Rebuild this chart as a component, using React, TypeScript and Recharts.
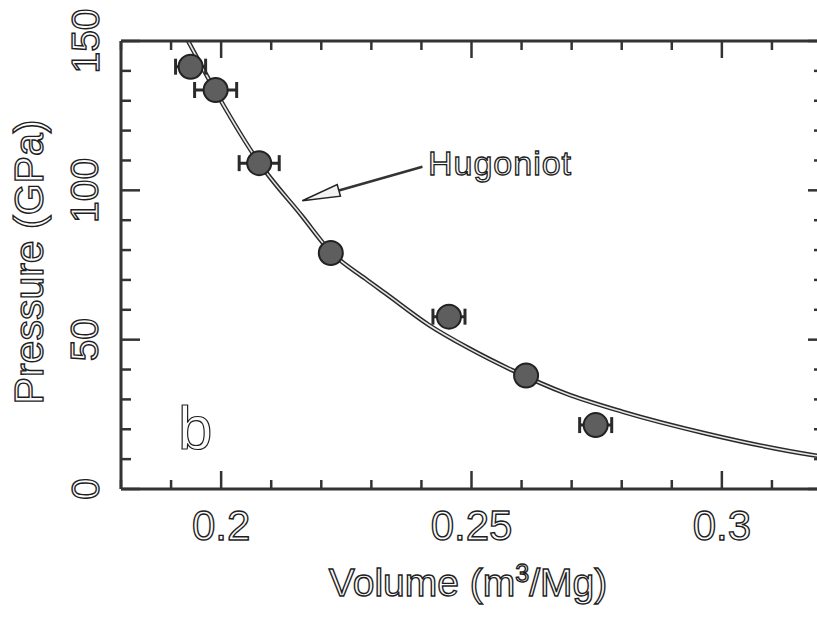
import React from 'react'
import { ComposedChart, Line, Scatter, XAxis, YAxis, ErrorBar, ReferenceLine } from 'recharts'

// measured points: volume (m3/Mg), pressure (GPa), volume uncertainty
const shotVolume = [0.1939, 0.1989, 0.2076, 0.2219, 0.2455, 0.2609, 0.2748]
const shotPressure = [141.4, 133.6, 109.1, 79.0, 57.7, 38.0, 21.4]
const shotVolumeErr = [0.003, 0.0042, 0.004, 0, 0.0032, 0, 0.0032]

// Hugoniot curve
const hugVolume = [0.1934, 0.1996, 0.2076, 0.2161, 0.2219, 0.2289, 0.2329, 0.2415, 0.2495, 0.2581, 0.2688, 0.2801, 0.2968, 0.318, 0.32]
const hugPressure = [150, 131, 109.2, 91.5, 79.4, 70.3, 65.4, 54.9, 47.1, 39.8, 32.0, 25.9, 18.6, 11.4, 10.9]

// arrow pointing from the label to the curve
const arrowVolume = [0.2402, 0.2162]
const arrowPressure = [107.9, 96.5]

const volumeTicks = [0.18, 0.19, 0.2, 0.21, 0.22, 0.23, 0.24, 0.25, 0.26, 0.27, 0.28, 0.29, 0.3, 0.31, 0.32]
const volumeLabels = [0.2, 0.25, 0.3]
const pressureTicks = [0, 10, 20, 30, 40, 50, 60, 70, 80, 90, 100, 110, 120, 130, 140, 150]
const pressureLabels = [0, 50, 100, 150]

const shots = shotVolume.map((v, i) => ({ v, p: shotPressure[i], err: shotVolumeErr[i] }))
const hugoniot = hugVolume.map((v, i) => ({ v, p: hugPressure[i] }))

const FONT = '"Liberation Sans", Arial, sans-serif'
const INK = '#1e1e1e'
const hollow = { fill: '#fbfbfb', stroke: INK, strokeWidth: 1.4, fontFamily: FONT }
const tickStyle = { stroke: '#333', strokeWidth: 2.5 }
const frame = { stroke: '#333', strokeWidth: 3 }

const PressureLabel = ({ x, y, payload }: any) => (
  <text
    x={x - 36}
    y={y}
    transform={`rotate(-90 ${x - 36} ${y})`}
    textAnchor="middle"
    dominantBaseline="central"
    fontSize={39}
    {...hollow}
  >
    {payload.value}
  </text>
)

const VolumeLabel = ({ x, y, payload }: any) => (
  <text x={x} y={y + 36} textAnchor="middle" dominantBaseline="central" fontSize={42} {...hollow}>
    {payload.value}
  </text>
)

// inward tick stubs at both ends of a full-height / full-width reference line
const VStubs = ({ x1, y1, y2, major }: any) => {
  const top = Math.min(y1, y2)
  const bottom = Math.max(y1, y2)
  return (
    <g>
      <line x1={x1} x2={x1} y1={top} y2={top + (major ? 17 : 9)} {...tickStyle} />
      <line x1={x1} x2={x1} y1={bottom} y2={bottom - (major ? 18 : 9)} {...tickStyle} />
    </g>
  )
}

const HStubs = ({ x1, x2, y1, major }: any) => {
  const left = Math.min(x1, x2)
  const right = Math.max(x1, x2)
  return (
    <g>
      <line x1={left} x2={left + (major ? 19 : 10)} y1={y1} y2={y1} {...tickStyle} />
      <line x1={right} x2={right - (major ? 14 : 8)} y1={y1} y2={y1} {...tickStyle} />
    </g>
  )
}

const Shot = ({ cx, cy }: any) => (
  <circle cx={cx} cy={cy} r={12} fill="#5e5e5e" stroke="#222" strokeWidth={2} />
)

const Arrow = ({ x1, y1, x2, y2 }: any) => {
  const dx = x2 - x1
  const dy = y2 - y1
  const len = Math.sqrt(dx * dx + dy * dy)
  const ux = dx / len
  const uy = dy / len
  const bx = x2 - ux * 38
  const by = y2 - uy * 38
  const head = `${x2},${y2} ${bx - uy * 6},${by + ux * 6} ${bx + uy * 6},${by - ux * 6}`
  return (
    <g>
      <line x1={x1} y1={y1} x2={bx} y2={by} stroke="#333" strokeWidth={2.5} />
      <polygon points={head} fill="#f2f2f2" stroke="#222" strokeWidth={1.5} />
    </g>
  )
}

const axisNum = { type: 'number' as const, allowDataOverflow: true, interval: 0 as const, tickSize: 0, tickMargin: 0, tickLine: false }

export default function App() {
  return (
    <div style={{ position: 'fixed', left: 0, top: 0, width: 817, height: 617, overflow: 'hidden', background: '#fff' }}>
      <ComposedChart width={823} height={617} margin={{ top: 40, right: 0, bottom: 0, left: 0 }}>
        <XAxis xAxisId="v" dataKey="v" {...axisNum} domain={[0.18, 0.32]} ticks={volumeLabels} height={128} axisLine={frame} tick={<VolumeLabel />} />
        <XAxis xAxisId="top" dataKey="v" orientation="top" {...axisNum} domain={[0.18, 0.32]} ticks={volumeLabels} height={1} axisLine={frame} tick={false} />
        <YAxis yAxisId="p" dataKey="p" {...axisNum} domain={[0, 150]} ticks={pressureLabels} width={121} axisLine={frame} tick={<PressureLabel />} />
        <YAxis yAxisId="right" dataKey="p" orientation="right" {...axisNum} domain={[0, 150]} ticks={pressureLabels} width={1} axisLine={frame} tick={false} />

        {volumeTicks.map((v) => (
          <ReferenceLine
            key={`vt-${v}`}
            xAxisId="v"
            yAxisId="p"
            x={v}
            ifOverflow="extendDomain"
            shape={(props: any) => <VStubs {...props} major={volumeLabels.includes(v)} />}
          />
        ))}
        {pressureTicks.map((p) => (
          <ReferenceLine
            key={`pt-${p}`}
            xAxisId="v"
            yAxisId="p"
            y={p}
            ifOverflow="extendDomain"
            shape={(props: any) => <HStubs {...props} major={pressureLabels.includes(p)} />}
          />
        ))}

        {/* Hugoniot drawn as a hollow double line; the inner stroke also anchors the top/right axes */}
        <Line xAxisId="v" yAxisId="p" data={hugoniot} dataKey="p" type="monotone" stroke="#2a2a2a" strokeWidth={4.5} dot={false} isAnimationActive={false} />
        <Line xAxisId="top" yAxisId="right" data={hugoniot} dataKey="p" type="monotone" stroke="#e6e6e6" strokeWidth={1.6} dot={false} isAnimationActive={false} />

        <ReferenceLine
          xAxisId="v"
          yAxisId="p"
          ifOverflow="visible"
          segment={[
            { x: arrowVolume[0], y: arrowPressure[0] },
            { x: arrowVolume[1], y: arrowPressure[1] },
          ]}
          shape={(props: any) => <Arrow {...props} />}
        />

        <Scatter xAxisId="v" yAxisId="p" data={shots} dataKey="p" shape={<Shot />} isAnimationActive={false}>
          <ErrorBar dataKey="err" direction="x" width={8} stroke="#2a2a2a" strokeWidth={3} isAnimationActive={false} />
        </Scatter>
      </ComposedChart>

      <div
        style={{
          position: 'absolute', left: 29, top: 262, transform: 'translate(-50%, -50%) rotate(-90deg)',
          fontFamily: FONT, fontSize: 41, lineHeight: 1, whiteSpace: 'nowrap',
          color: '#fbfbfb', WebkitTextStroke: `1.4px ${INK}`,
        }}
      >
        Pressure (GPa)
      </div>
      <div
        style={{
          position: 'absolute', left: 468, top: 582, transform: 'translate(-50%, -50%)',
          fontFamily: FONT, fontSize: 39, lineHeight: 1, whiteSpace: 'nowrap',
          color: '#fbfbfb', WebkitTextStroke: `1.4px ${INK}`,
        }}
      >
        Volume (m<sup style={{ fontSize: 25, lineHeight: 0 }}>3</sup>/Mg)
      </div>
      <div
        style={{
          position: 'absolute', left: 500, top: 163, transform: 'translate(-50%, -50%)',
          fontFamily: FONT, fontSize: 34, lineHeight: 1, whiteSpace: 'nowrap', letterSpacing: 1,
          color: '#fbfbfb', WebkitTextStroke: `1.3px ${INK}`,
        }}
      >
        Hugoniot
      </div>
      <div
        style={{
          position: 'absolute', left: 178, top: 397,
          fontFamily: FONT, fontSize: 62, lineHeight: '62px',
          color: '#fbfbfb', WebkitTextStroke: `1.2px ${INK}`,
        }}
      >
        b
      </div>
    </div>
  )
}
